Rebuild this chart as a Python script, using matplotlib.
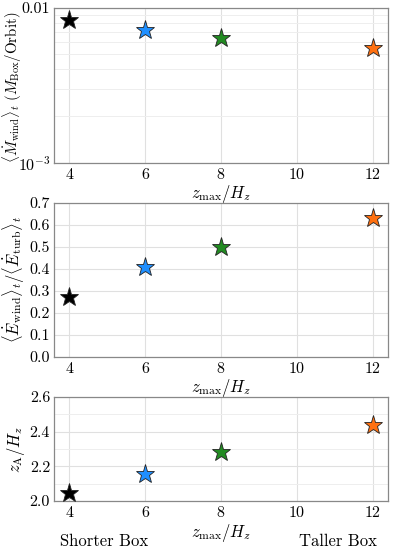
import matplotlib
matplotlib.use("Agg")
import matplotlib.pyplot as plt
from matplotlib.ticker import MultipleLocator, LogLocator, NullFormatter

plt.rcParams['font.family'] = 'serif'
plt.rcParams['font.serif'] = ['cmr10', 'DejaVu Serif']
plt.rcParams['mathtext.fontset'] = 'cm'
plt.rcParams['axes.formatter.use_mathtext'] = True
plt.rcParams['axes.unicode_minus'] = False

# data
zmax = [4, 6, 8, 12]
colors = ['black', '#1f8fff', '#228b22', '#ff7010']
mdot_wind = [0.0083, 0.0072, 0.0064, 0.0055]
e_ratio = [0.27, 0.41, 0.50, 0.63]
z_alfven = [2.045, 2.155, 2.28, 2.44]

fig, axes = plt.subplots(3, 1, figsize=(3.99, 5.58), dpi=100,
                         gridspec_kw={'height_ratios': [153, 152, 103]})
plt.subplots_adjust(left=0.136, right=0.972, top=0.986, bottom=0.102, hspace=0.29)

ylabels = [r'$\langle \dot{M}_{\rm wind}\rangle_t\ (M_{\rm Box}/{\rm Orbit})$',
           r'$\langle \dot{E}_{\rm wind}\rangle_t/\langle \dot{E}_{\rm turb}\rangle_t$',
           r'$z_{\rm A}/H_z$']
label_sizes = [10.8, 12, 12]
series = [mdot_wind, e_ratio, z_alfven]

for ax, vals, lab, fs in zip(axes, series, ylabels, label_sizes):
    for x, y, c in zip(zmax, vals, colors):
        ax.plot(x, y, marker='*', ms=14, color=c, mec='#222222', mew=0.6, ls='none', zorder=3)
    ax.set_xlim(3.6, 12.4)
    ax.set_xticks([4, 6, 8, 10, 12])
    ax.set_xlabel(r'$z_{\rm max}/H_z$', fontsize=12, labelpad=1)
    ax.set_ylabel(lab, fontsize=fs, labelpad=2)
    ax.tick_params(length=0, labelsize=11.5, pad=3)
    ax.grid(which='major', color='#e0e0e0', lw=0.8)
    ax.grid(which='minor', color='#eeeeee', lw=0.7)
    for s in ax.spines.values():
        s.set_color('#888888')
        s.set_linewidth(0.9)
    ax.set_axisbelow(True)

ax = axes[0]
ax.set_yscale('log')
ax.set_ylim(1e-3, 1e-2)
ax.set_yticks([1e-3, 1e-2])
ax.set_yticklabels([r'$10^{-3}$', '0.01'])
ax.yaxis.set_minor_locator(LogLocator(base=10, subs=range(2, 10)))
ax.yaxis.set_minor_formatter(NullFormatter())
ax.tick_params(which='minor', length=0)
ax.yaxis.set_label_coords(-0.095, 0.49)

ax = axes[1]
ax.set_ylim(0, 0.7)
ax.yaxis.set_major_locator(MultipleLocator(0.1))
ax.yaxis.set_major_formatter(plt.FuncFormatter(lambda v, p: f'{v:.1f}'))

ax = axes[2]
ax.set_ylim(2.0, 2.6)
ax.yaxis.set_major_locator(MultipleLocator(0.2))
ax.yaxis.set_minor_locator(MultipleLocator(0.1))
ax.yaxis.set_major_formatter(plt.FuncFormatter(lambda v, p: f'{v:.1f}'))
ax.tick_params(which='minor', length=0)

fig.text(0.15, 0.022, 'Shorter Box', fontsize=12)
fig.text(0.75, 0.022, 'Taller Box', fontsize=12)

fig.savefig('out.png', dpi=100)
